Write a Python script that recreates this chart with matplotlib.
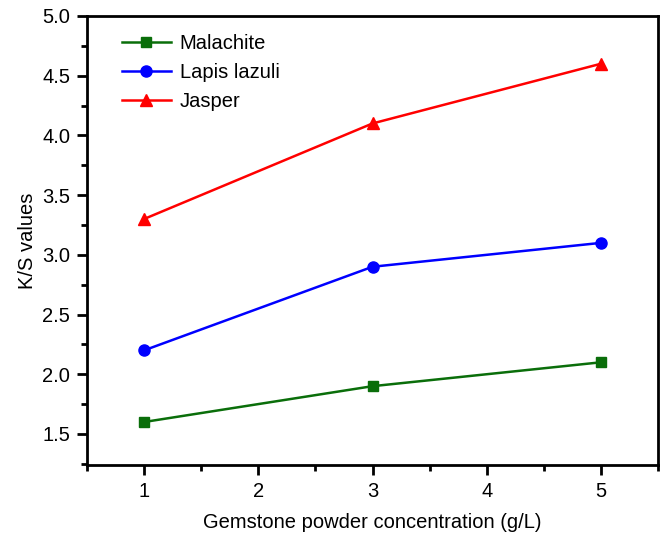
import matplotlib
matplotlib.use("Agg")
import matplotlib.pyplot as plt
from matplotlib.ticker import MultipleLocator

plt.rcParams['font.family'] = ['Liberation Sans', 'DejaVu Sans']

conc = [1, 3, 5]
malachite = [1.6, 1.9, 2.1]
lapis = [2.2, 2.9, 3.1]
jasper = [3.3, 4.1, 4.6]

fig = plt.figure(figsize=(6.62, 5.38), dpi=100)
ax = fig.add_axes([0.1314, 0.1357, 0.8626, 0.8346])

ax.plot(conc, malachite, color='#0a6e0a', marker='s', markersize=7, lw=1.8, label='Malachite')
ax.plot(conc, lapis, color='#0000ff', marker='o', markersize=8, lw=1.8, label='Lapis lazuli')
ax.plot(conc, jasper, color='#ff0000', marker='^', markersize=8, lw=1.8, label='Jasper')

ax.set_xlim(0.5, 5.5)
ax.set_ylim(1.24, 5.0)
ax.xaxis.set_major_locator(MultipleLocator(1))
ax.xaxis.set_minor_locator(MultipleLocator(0.5))
ax.yaxis.set_minor_locator(MultipleLocator(0.25))
ax.set_yticks([1.5, 2.0, 2.5, 3.0, 3.5, 4.0, 4.5, 5.0])
ax.yaxis.set_major_formatter(matplotlib.ticker.FormatStrFormatter('%.1f'))

for s in ax.spines.values():
    s.set_linewidth(2)
ax.tick_params(which='major', direction='out', length=7, width=2, labelsize=14.5, pad=5,
               top=False, right=False)
ax.tick_params(which='minor', direction='out', length=4, width=2, top=False, right=False)

ax.set_xlabel('Gemstone powder concentration (g/L)', fontsize=14.5, labelpad=9)
ax.set_ylabel('K/S values', fontsize=14.5, labelpad=4)

ax.legend(loc='upper left', bbox_to_anchor=(0.03, 1.0), frameon=False, fontsize=14.5,
          handlelength=2.4, handletextpad=0.45, labelspacing=0.5, borderaxespad=0.5)

fig.savefig('out.png', dpi=100)
